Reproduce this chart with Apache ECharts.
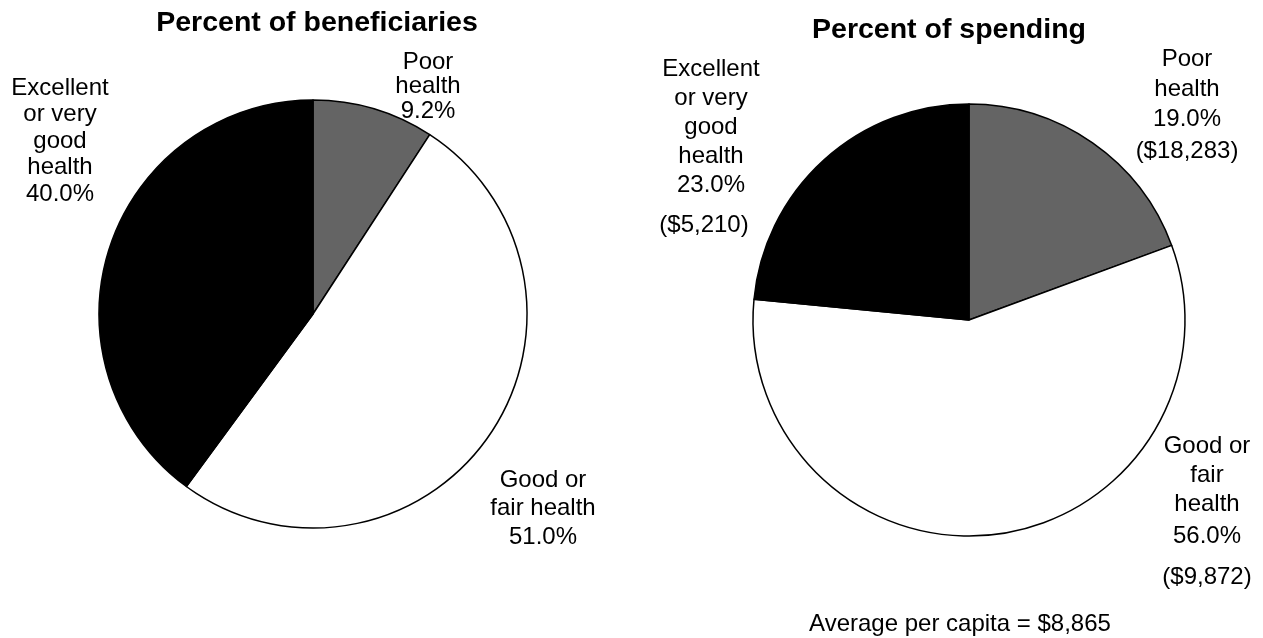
<!DOCTYPE html>
<html>
<head>
<meta charset="utf-8">
<script src="https://cdn.jsdelivr.net/npm/echarts@6/dist/echarts.min.js"></script>
<style>
  html, body { margin: 0; padding: 0; background: #fff; }
  #chart { width: 1263px; height: 638px; }
</style>
</head>
<body>
<div id="chart"></div>
<script>
// Health status groups, in clockwise order from 12 o'clock
const categories = ['Poor health', 'Good or fair health', 'Excellent or very good health'];
const sliceColors = ['#646464', '#ffffff', '#000000'];

// Left pie: share of beneficiaries (%)
const beneficiaryShares = [9.2, 51.0, 40.0];
const beneficiaryLabelText = [
  ['Poor', 'health'],
  ['Good or', 'fair health'],
  ['Excellent', 'or very', 'good', 'health']
];

// Right pie: share of spending (%) and per-capita spending ($)
const spendingShares = [19.0, 56.0, 23.0];
const perCapitaSpending = [18283, 9872, 5210];
const spendingLabelText = [
  ['Poor', 'health'],
  ['Good or', 'fair', 'health'],
  ['Excellent', 'or very', 'good', 'health']
];
const averagePerCapita = 8865;

const FONT = '"Liberation Sans", Arial, sans-serif';
const LABEL_SIZE = 24;
const TITLE_SIZE = 28.5;

// Label placement (text block top-centre) and line spacing
const beneficiaryLabelPos = [
  { x: 428, y: 50,  lh: 24.5, pctLh: 24.5 },
  { x: 543, y: 466, lh: 28, pctLh: 30 },
  { x: 60,  y: 75,  lh: 26.5, pctLh: 26.5 }
];
const spendingLabelPos = [
  { x: 1187, y: 44,  lh: 30, pctLh: 30, dolLh: 34 },
  { x: 1207, y: 432, lh: 29, pctLh: 35, dolLh: 47 },
  { x: 711,  y: 55,  lh: 29, pctLh: 29, dolLh: 51, dolShift: 14 }
];

const fmtPct = v => v.toFixed(1) + '%';
const fmtDollar = v => '($' + v.toLocaleString('en-US') + ')';

function richFor(pos) {
  const base = { fontFamily: FONT, fontSize: LABEL_SIZE, color: '#000', align: 'center' };
  return {
    t: Object.assign({}, base, { lineHeight: pos.lh }),
    p: Object.assign({}, base, { lineHeight: pos.pctLh }),
    d: Object.assign({}, base, {
      lineHeight: pos.dolLh || pos.lh,
      padding: [0, pos.dolShift || 0, 0, 0]
    })
  };
}

const beneficiaryData = categories.map((name, i) => ({
  name,
  value: beneficiaryShares[i],
  itemStyle: { color: sliceColors[i] },
  label: {
    formatter: beneficiaryLabelText[i].map(s => '{t|' + s + '}').join('\n') +
      '\n{p|' + fmtPct(beneficiaryShares[i]) + '}',
    rich: richFor(beneficiaryLabelPos[i])
  }
}));

const spendingData = categories.map((name, i) => ({
  name,
  value: spendingShares[i],
  itemStyle: { color: sliceColors[i] },
  label: {
    formatter: spendingLabelText[i].map(s => '{t|' + s + '}').join('\n') +
      '\n{p|' + fmtPct(spendingShares[i]) + '}' +
      '\n{d|' + fmtDollar(perCapitaSpending[i]) + '}',
    rich: richFor(spendingLabelPos[i])
  }
}));

function placeLabels(positions) {
  return params => ({
    x: positions[params.dataIndex].x,
    y: positions[params.dataIndex].y,
    align: 'center',
    verticalAlign: 'top'
  });
}

const pieCommon = {
  type: 'pie',
  startAngle: 90,
  clockwise: true,
  animation: false,
  silent: true,
  avoidLabelOverlap: false,
  itemStyle: { borderColor: '#000', borderWidth: 1.5 },
  label: { show: true, position: 'outside', align: 'center' },
  labelLine: { show: false },
  emphasis: { disabled: true }
};

const chart = echarts.init(document.getElementById('chart'), null, { renderer: 'canvas' });
chart.setOption({
  backgroundColor: '#ffffff',
  title: [
    {
      text: 'Percent of beneficiaries',
      left: 312, top: 4, textAlign: 'center',
      textStyle: { fontFamily: FONT, fontSize: TITLE_SIZE, fontWeight: 'bold', color: '#000' }
    },
    {
      text: 'Percent of spending',
      left: 944, top: 11, textAlign: 'center',
      textStyle: { fontFamily: FONT, fontSize: TITLE_SIZE, fontWeight: 'bold', color: '#000' }
    },
    {
      text: 'Average per capita = $' + averagePerCapita.toLocaleString('en-US'),
      left: 955, top: 607, textAlign: 'center',
      textStyle: { fontFamily: FONT, fontSize: LABEL_SIZE, fontWeight: 'normal', color: '#000' }
    }
  ],
  series: [
    Object.assign({}, pieCommon, {
      name: 'Percent of beneficiaries',
      center: [313, 314],
      radius: 214,
      data: beneficiaryData,
      labelLayout: placeLabels(beneficiaryLabelPos)
    }),
    Object.assign({}, pieCommon, {
      name: 'Percent of spending',
      center: [969, 320],
      radius: 216,
      data: spendingData,
      labelLayout: placeLabels(spendingLabelPos)
    })
  ]
});
</script>
</body>
</html>
